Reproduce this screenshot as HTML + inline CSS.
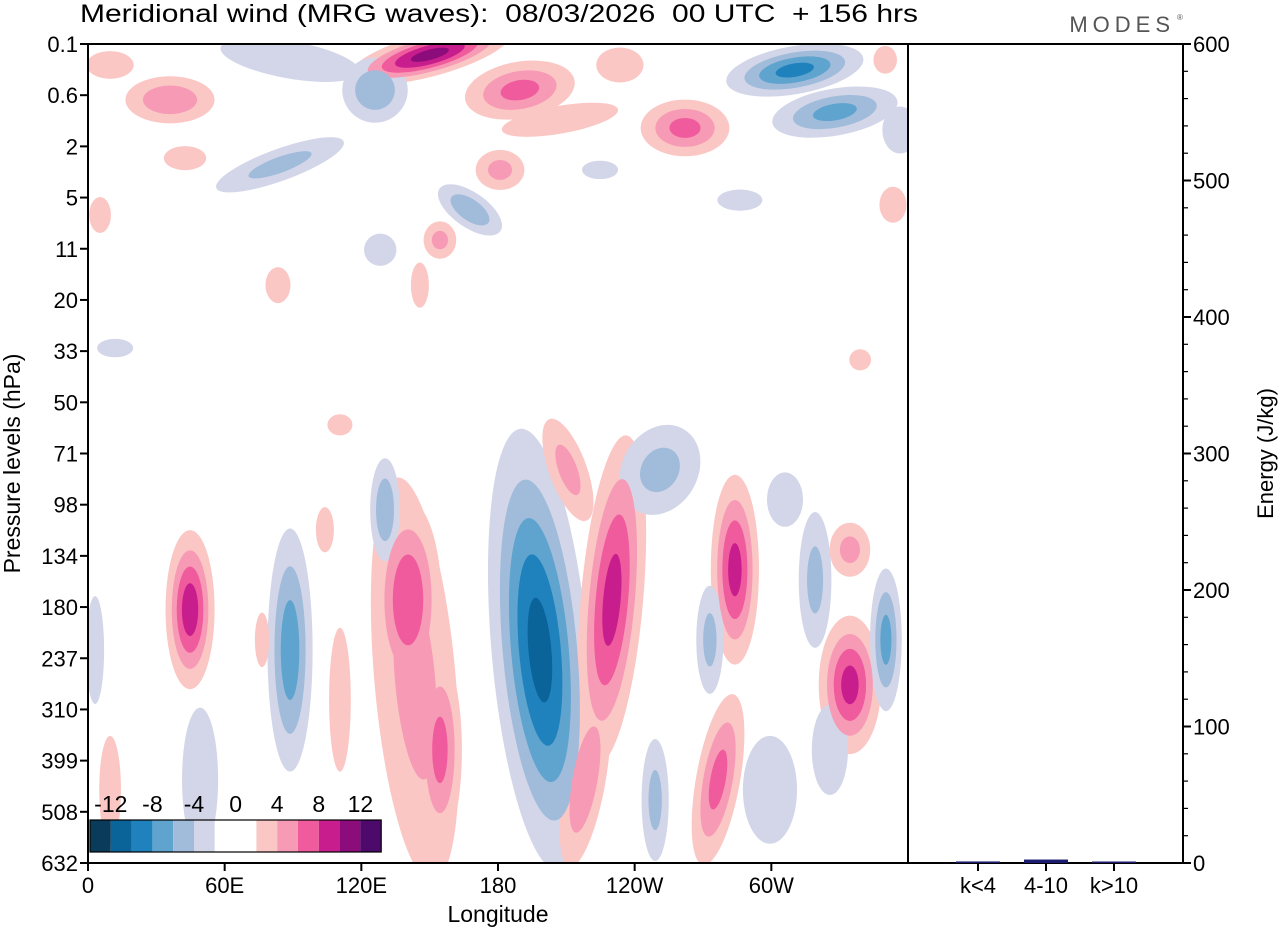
<!DOCTYPE html>
<html><head><meta charset="utf-8">
<style>
body{margin:0;background:#fff;}
svg{display:block;font-family:"Liberation Sans",Arial,sans-serif;}
</style></head>
<body>
<svg id="chart" width="1280" height="930" viewBox="0 0 1280 930" xmlns="http://www.w3.org/2000/svg">
<defs><clipPath id="plotclip"><rect x="88" y="44" width="820" height="819"/></clipPath></defs>
<text x="80" y="22" font-size="25" textLength="838" lengthAdjust="spacingAndGlyphs" style="white-space:pre">Meridional wind (MRG waves):  08/03/2026  00 UTC  + 156 hrs</text>
<text x="1175" y="32" font-size="22" fill="#555" text-anchor="end" letter-spacing="5">MODES</text>
<text x="1177" y="20" font-size="8" fill="#555">®</text>
<g id="field" clip-path="url(#plotclip)"></g>
<g id="axes"></g>
</svg>
<script>
// ---- data (lon in degrees east 0-360, level index 0..16, amplitude m/s) ----
const levelLabels = ["0.1","0.6","2","5","11","20","33","50","71","98","134","180","237","310","399","508","632"];
const lonTicks = [0,60,120,180,240,300];
const lonTickLabels = ["0","60E","120E","180","120W","60W"];
const blobLon = [198.4,230,210.7,218.2,251.1,284,276.6,319.2,306,334.5,334.5,350.3,44.8,88.7,140.5,143.6,154.5,130.4,273,249,49.2,3.1,110.6,9.7,104,76.4,299.4,325.7,
 150.1,189.6,88.7,126,36,9.7,262.1,310.3,327.9,84.3,167.7,180.9,42.6,154.5,224.8,286.2,353.4,233.5,350,83.4,145.7,128.3,11.9,110.6,339,5.3,356.5,207.2];
const blobLev = [11.84,10.86,8.32,14.37,8.32,10.27,14.37,10.47,8.9,12.52,9.88,11.64,11.05,11.84,10.86,12.42,13.79,9.1,11.64,14.77,14.37,11.84,12.81,14.57,9.49,11.64,14.57,13.79,
 0.21,0.9,0.31,0.9,1.09,0.41,1.64,0.51,1.33,2.36,3.24,2.46,2.23,3.83,2.46,3.05,3.14,0.41,0.31,4.71,4.71,4.02,5.94,7.44,6.17,3.34,1.68,1.48];
const blobAmp = [-11,9,5,6,-5,9,7,-5,-3,9,5,-7,9.5,-7.5,8,5,7,-6,-5,-5,-3,-3,3,3,3,3,-3,-3,
 11,7,-4,-6,6,4,7,-9,-7,-5,-6,5,4,5,-3,-3,3,4,4,3,3,-3,-3,3,3,3,-4,4];
const blobWidth = [11.5,7.9,6.1,6.1,12.3,6.1,6.1,5.3,8.8,7.9,6.6,4.4,6.1,6.1,8.8,13.2,6.1,4.4,4.4,4.4,8.8,4.4,5.3,5.3,4.4,3.5,13.2,8.8,
 19.8,15.4,26.3,9.7,13.2,8.8,12.3,17.6,17.6,22,11,7.9,7.9,5.3,8.8,11,6.6,8.8,4.4,6.1,4.4,7.9,8.8,6.1,5.3,5.3,6.6,22];
const blobHeight = [2.35,1.86,0.78,1.17,0.68,1.07,1.07,0.98,0.59,0.78,0.39,0.88,0.88,1.46,1.17,2.93,1.17,0.68,0.78,0.88,1.56,1.17,1.56,1.17,0.49,0.59,1.17,0.98,
 0.23,0.35,0.31,0.43,0.31,0.23,0.35,0.27,0.29,0.23,0.23,0.29,0.2,0.27,0.2,0.23,0.39,0.29,0.23,0.39,0.49,0.35,0.2,0.23,0.23,0.39,0.39,0.23];
const blobTilt = [-5,5,-20,10,30,0,10,0,0,0,0,0,0,0,0,-5,0,0,0,0,0,0,0,0,0,0,0,0,
 -15,-10,10,0,0,0,0,-10,-10,-20,35,0,0,0,0,0,0,0,0,0,0,0,0,0,0,0,0,-10];
const thresholds = [2,4,6,8,10,12];
const negColors = ["#d3d6e8","#a0bcda","#5fa3cf","#1f82bd","#0a6399","#0b3b5a"];
const posColors = ["#fbc7c4","#f79ab5","#ef5b9c","#c81d8c","#8c0c7c","#4d0a6b"];
const barCats = ["k<4","4-10","k>10"];
const barVals = [0.4,1.8,0.2];
const energyTicks = [0,100,200,300,400,500,600];
const cbarLabels = ["-12","-8","-4","0","4","8","12"];

// ---- axis functions ----
const X0=88,X1=908,Y0=44,Y1=863;
const xLon = l => X0 + l/360*(X1-X0);
const yLev = i => Y0 + i/16*(Y1-Y0);
const pxPerLon = (X1-X0)/360, pxPerLev = (Y1-Y0)/16;
const yEn = e => Y1 - e/600*(Y1-Y0);
const NS="http://www.w3.org/2000/svg";
function mk(tag, attrs, parent){const e=document.createElementNS(NS,tag);for(const k in attrs)e.setAttribute(k,attrs[k]);parent.appendChild(e);return e;}

const field=document.getElementById('field');
for(let k=0;k<thresholds.length;k++){
  for(let b=0;b<blobAmp.length;b++){
    const A=Math.abs(blobAmp[b]); const t=thresholds[k];
    if(A<=t) continue;
    const f=Math.sqrt(2*Math.log(A/t));
    const cx=xLon(blobLon[b]), cy=yLev(blobLev[b]);
    const e=mk('ellipse',{cx:cx,cy:cy,rx:blobWidth[b]*pxPerLon*f,ry:blobHeight[b]*pxPerLev*f,
      fill:blobAmp[b]<0?negColors[k]:posColors[k],transform:`rotate(${blobTilt[b]} ${cx} ${cy})`},field);
    
    
  }
}

const ax=document.getElementById('axes');
// colorbar
const cbx=90, cby=820, cw=20.8, ch=32;
const cbColors=[...negColors].reverse().concat(["#ffffff","#ffffff"]).concat(posColors);
cbColors.forEach((c,i)=>{const r=mk('rect',{x:cbx+i*cw,y:cby,width:cw,height:ch,fill:c},ax);
  
  });
const cbf=mk('rect',{x:cbx,y:cby,width:cw*14,height:ch,fill:'none',stroke:'#000','stroke-width':1.2},ax);


cbarLabels.forEach((s,i)=>{const t=mk('text',{x:cbx+cw*(1+2*i),y:812,'font-size':23,'text-anchor':'middle'},ax);t.textContent=s;
  
  });

// frames
const f1=mk('rect',{x:X0,y:Y0,width:X1-X0,height:Y1-Y0,fill:'none',stroke:'#000','stroke-width':2},ax);


const f2=mk('rect',{x:X1,y:Y0,width:1183-X1,height:Y1-Y0,fill:'none',stroke:'#000','stroke-width':2},ax);



// y ticks
levelLabels.forEach((s,i)=>{const y=yLev(i);
  mk('line',{x1:X0-8,x2:X0,y1:y,y2:y,stroke:'#000','stroke-width':2},ax);
  const t=mk('text',{x:X0-10,y:y+8,'font-size':22,'text-anchor':'end'},ax);t.textContent=s;
  
  });
const yt=mk('text',{x:0,y:0,'font-size':23,'text-anchor':'middle',transform:`translate(20 ${(Y0+Y1)/2+10}) rotate(-90)`},ax);
yt.textContent='Pressure levels (hPa)';


// x ticks
lonTicks.forEach((l,i)=>{const x=xLon(l);
  mk('line',{x1:x,x2:x,y1:Y1,y2:Y1+8,stroke:'#000','stroke-width':2},ax);
  const t=mk('text',{x:x,y:Y1+30,'font-size':22,'text-anchor':'middle'},ax);t.textContent=lonTickLabels[i];
  
  });
const xt=mk('text',{x:498,y:922,'font-size':23,'text-anchor':'middle'},ax);xt.textContent='Longitude';



// energy axis
for(let e=0;e<=600;e+=20){const y=yEn(e);const major=e%100===0;
  mk('line',{x1:1183,x2:1183+(major?8:5),y1:y,y2:y,stroke:'#000','stroke-width':major?2:1.2},ax);}
energyTicks.forEach(e=>{const t=mk('text',{x:1193,y:yEn(e)+8,'font-size':22},ax);t.textContent=e;
  
  });
const et=mk('text',{x:0,y:0,'font-size':22,'text-anchor':'middle',transform:`translate(1273 ${(Y0+Y1)/2}) rotate(-90)`},ax);
et.textContent='Energy (J/kg)';


// bars
const bx = i => 978 + i*68;
barCats.forEach((c,i)=>{const x=bx(i);
  mk('line',{x1:x,x2:x,y1:Y1,y2:Y1+8,stroke:'#000','stroke-width':2},ax);
  const h=Math.max(barVals[i]/600*(Y1-Y0),0.5);
  const r=mk('rect',{x:x-22,y:Y1-h-1,width:44,height:h+1,fill:'#1a1a6e'},ax);
  
  
  const t=mk('text',{x:x,y:Y1+30,'font-size':22,'text-anchor':'middle'},ax);t.textContent=c;
  
  });
</script>
</body></html>
